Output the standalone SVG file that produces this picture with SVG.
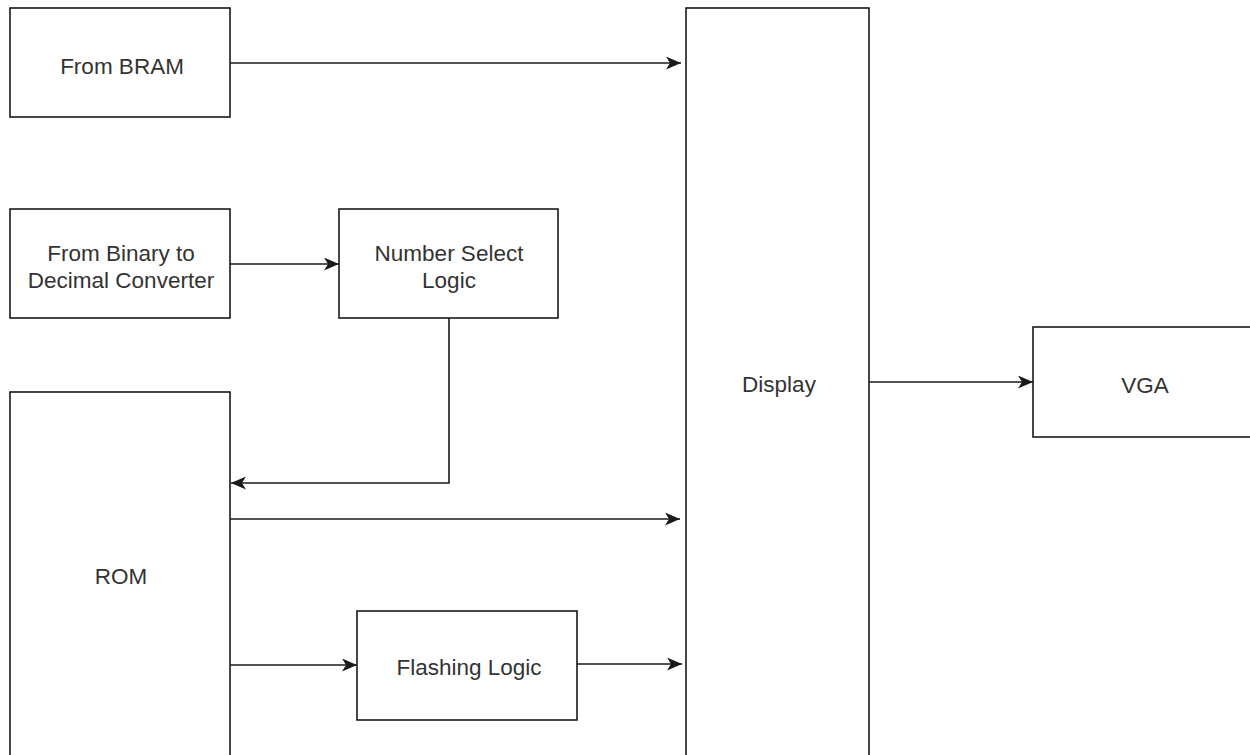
<svg xmlns="http://www.w3.org/2000/svg" width="1250" height="755" viewBox="0 0 1250 755">
  <style>
    .box { fill: #ffffff; stroke: #1a1a1a; stroke-width: 1.6; }
    .lbl { font-family: "Liberation Sans", Arial, sans-serif; font-size: 22.5px; fill: #333333; text-anchor: middle; }
    .wire { fill: none; stroke: #1a1a1a; stroke-width: 1.6; }
  </style>
  <defs>
    <!-- classic notched arrowhead, sized in user units -->
    <marker id="arrow" viewBox="0 0 15 13" refX="15" refY="6.5" markerWidth="15" markerHeight="13" markerUnits="userSpaceOnUse" orient="auto">
      <path d="M0,0 L15,6.5 L0,13 L4,6.5 Z" fill="#1a1a1a"/>
    </marker>
  </defs>
  <rect width="1250" height="755" fill="#ffffff"/>

  <g id="from-bram">
    <rect class="box" x="10" y="8" width="220" height="109"/>
    <text class="lbl" x="122" y="74">From BRAM</text>
  </g>

  <g id="from-binary">
    <rect class="box" x="10" y="209" width="220" height="109"/>
    <text class="lbl" x="121" y="261">From Binary to</text>
    <text class="lbl" x="121" y="288">Decimal Converter</text>
  </g>

  <g id="number-select">
    <rect class="box" x="339" y="209" width="219" height="109"/>
    <text class="lbl" x="449" y="261">Number Select</text>
    <text class="lbl" x="449" y="288">Logic</text>
  </g>

  <g id="rom">
    <rect class="box" x="10" y="392" width="220" height="380"/>
    <text class="lbl" x="121" y="584">ROM</text>
  </g>

  <g id="flashing-logic">
    <rect class="box" x="357" y="611" width="220" height="109"/>
    <text class="lbl" x="469" y="675">Flashing Logic</text>
  </g>

  <g id="display">
    <rect class="box" x="686" y="8" width="183" height="764"/>
    <text class="lbl" x="779" y="392">Display</text>
  </g>

  <g id="vga">
    <rect class="box" x="1033" y="327" width="230" height="110"/>
    <text class="lbl" x="1145" y="393">VGA</text>
  </g>

  <g id="connectors">
    <path class="wire" d="M230,63 H681" marker-end="url(#arrow)"/>
    <path class="wire" d="M230,264 H339" marker-end="url(#arrow)"/>
    <path class="wire" d="M449,318 V483 H231" marker-end="url(#arrow)"/>
    <path class="wire" d="M230,519 H680" marker-end="url(#arrow)"/>
    <path class="wire" d="M230,665 H357" marker-end="url(#arrow)"/>
    <path class="wire" d="M577,664 H682" marker-end="url(#arrow)"/>
    <path class="wire" d="M869,382 H1033" marker-end="url(#arrow)"/>
  </g>
</svg>
